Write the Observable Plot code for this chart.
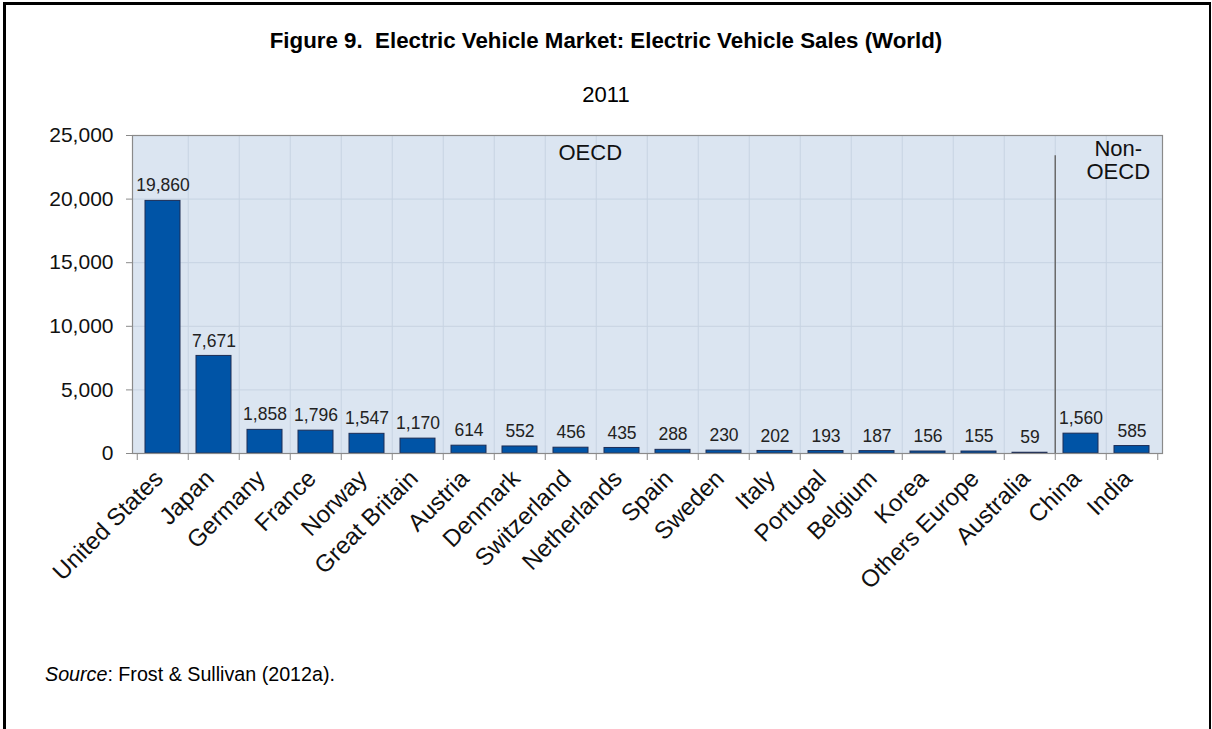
<!DOCTYPE html>
<html>
<head>
<meta charset="utf-8">
<script src="https://cdn.jsdelivr.net/npm/d3@7"></script>
<script src="https://cdn.jsdelivr.net/npm/@observablehq/plot@0.6"></script>
<style>
  html, body { margin: 0; padding: 0; background: #fff; width: 1212px; height: 729px; overflow: hidden; }
  body { position: relative; font-family: "Liberation Sans", Arial, sans-serif; color: #000; }
  #border { position: absolute; left: 3px; top: 2px; width: 1203px; height: 760px; border-left: 3px solid #000; border-top: 3px solid #000; border-right: 2px solid #000; }
  #title { position: absolute; left: 0; width: 1212px; top: 28px; text-align: center; font-size: 22.3px; font-weight: bold; line-height: 26px; }
  #subtitle { position: absolute; left: 0; width: 1212px; top: 82px; text-align: center; font-size: 22px; line-height: 26px; }
  #chart { position: absolute; left: 0; top: 110px; }
  #source { position: absolute; left: 45px; top: 662px; font-size: 19.7px; line-height: 24px; }
</style>
</head>
<body>
<div id="border"></div>
<div id="title">Figure 9.&nbsp; Electric Vehicle Market: Electric Vehicle Sales (World)</div>
<div id="subtitle">2011</div>
<div id="chart"></div>
<div id="source"><i>Source</i>: Frost &amp; Sullivan (2012a).</div>
<script>
const categories = ["United States","Japan","Germany","France","Norway","Great Britain","Austria","Denmark","Switzerland","Netherlands","Spain","Sweden","Italy","Portugal","Belgium","Korea","Others Europe","Australia","China","India"];
const sales = [19860,7671,1858,1796,1547,1170,614,552,456,435,288,230,202,193,187,156,155,59,1560,585];
const yTicks = [0,5000,10000,15000,20000,25000];
const oecdLabel = ["OECD"];
const nonOecdLabel = ["Non-", "OECD"];
const dividerTop = [23400];

const data = categories.map((c, i) => ({country: c, sales: sales[i]}));
const fmt = d3.format(",");

const W = 1212, H = 500, ML = 132, MR = 50, MT = 25, MB = 157;
const step = (W - ML - MR) / categories.length;
const plotH = H - MT - MB;
const grid = "#c7d3e2";

const chart = Plot.plot({
  width: W, height: H,
  marginLeft: ML, marginRight: MR, marginTop: MT, marginBottom: MB,
  style: {fontFamily: "'Liberation Sans', Arial, sans-serif", color: "#000", background: "transparent"},
  x: {domain: categories, paddingInner: 0.32, paddingOuter: 0.16, label: null},
  y: {domain: [0, 25000], label: null},
  marks: [
    Plot.frame({fill: "#dbe5f1", stroke: "none"}),
    Plot.ruleY(yTicks.slice(1, -1), {stroke: grid, strokeWidth: 1}),
    Plot.ruleX(categories.slice(1), {stroke: grid, strokeWidth: 1, dx: -step / 2}),
    Plot.barY(data, {x: "country", y: "sales", fill: "#0054a6", stroke: "#1c2d55", strokeWidth: 1}),
    Plot.ruleX(["China"], {y1: 0, y2: dividerTop[0], stroke: "#6b6b6b", strokeWidth: 1.5, dx: -step / 2}),
    Plot.frame({stroke: "#8a8a8a", strokeWidth: 1.2}),
    Plot.ruleX(categories, {stroke: "#8a8a8a", strokeWidth: 1, dx: -step / 2, insetTop: plotH, insetBottom: -7}),
    Plot.ruleX([categories[categories.length - 1]], {stroke: "#8a8a8a", strokeWidth: 1, dx: step / 2, insetTop: plotH, insetBottom: -7}),
    Plot.text(data, {x: "country", y: "sales", text: d => fmt(d.sales), dy: -15, fontSize: 17.5, fill: "#222"}),
    Plot.text(oecdLabel, {x: () => "Netherlands", frameAnchor: "top", text: d => d, dx: -step / 2 - 6, dy: 9, fontSize: 22, fill: "#111"}),
    Plot.text([nonOecdLabel[0]], {x: () => "India", frameAnchor: "top", text: d => d, dx: -step / 2 + 12, dy: 5, fontSize: 22, fill: "#111"}),
    Plot.text([nonOecdLabel[1]], {x: () => "India", frameAnchor: "top", text: d => d, dx: -step / 2 + 12, dy: 28, fontSize: 22, fill: "#111"}),
    Plot.axisY({ticks: yTicks, tickFormat: fmt, fontSize: 21, tickSize: 6, tickPadding: 13, stroke: "#8a8a8a", fill: "#111"}),
    Plot.axisX({tickSize: 0, tickRotate: -45, textAnchor: "end", fontSize: 24, tickPadding: 21, dx: -4, fill: "#111"})
  ]
});
document.getElementById("chart").appendChild(chart);
</script>
</body>
</html>
